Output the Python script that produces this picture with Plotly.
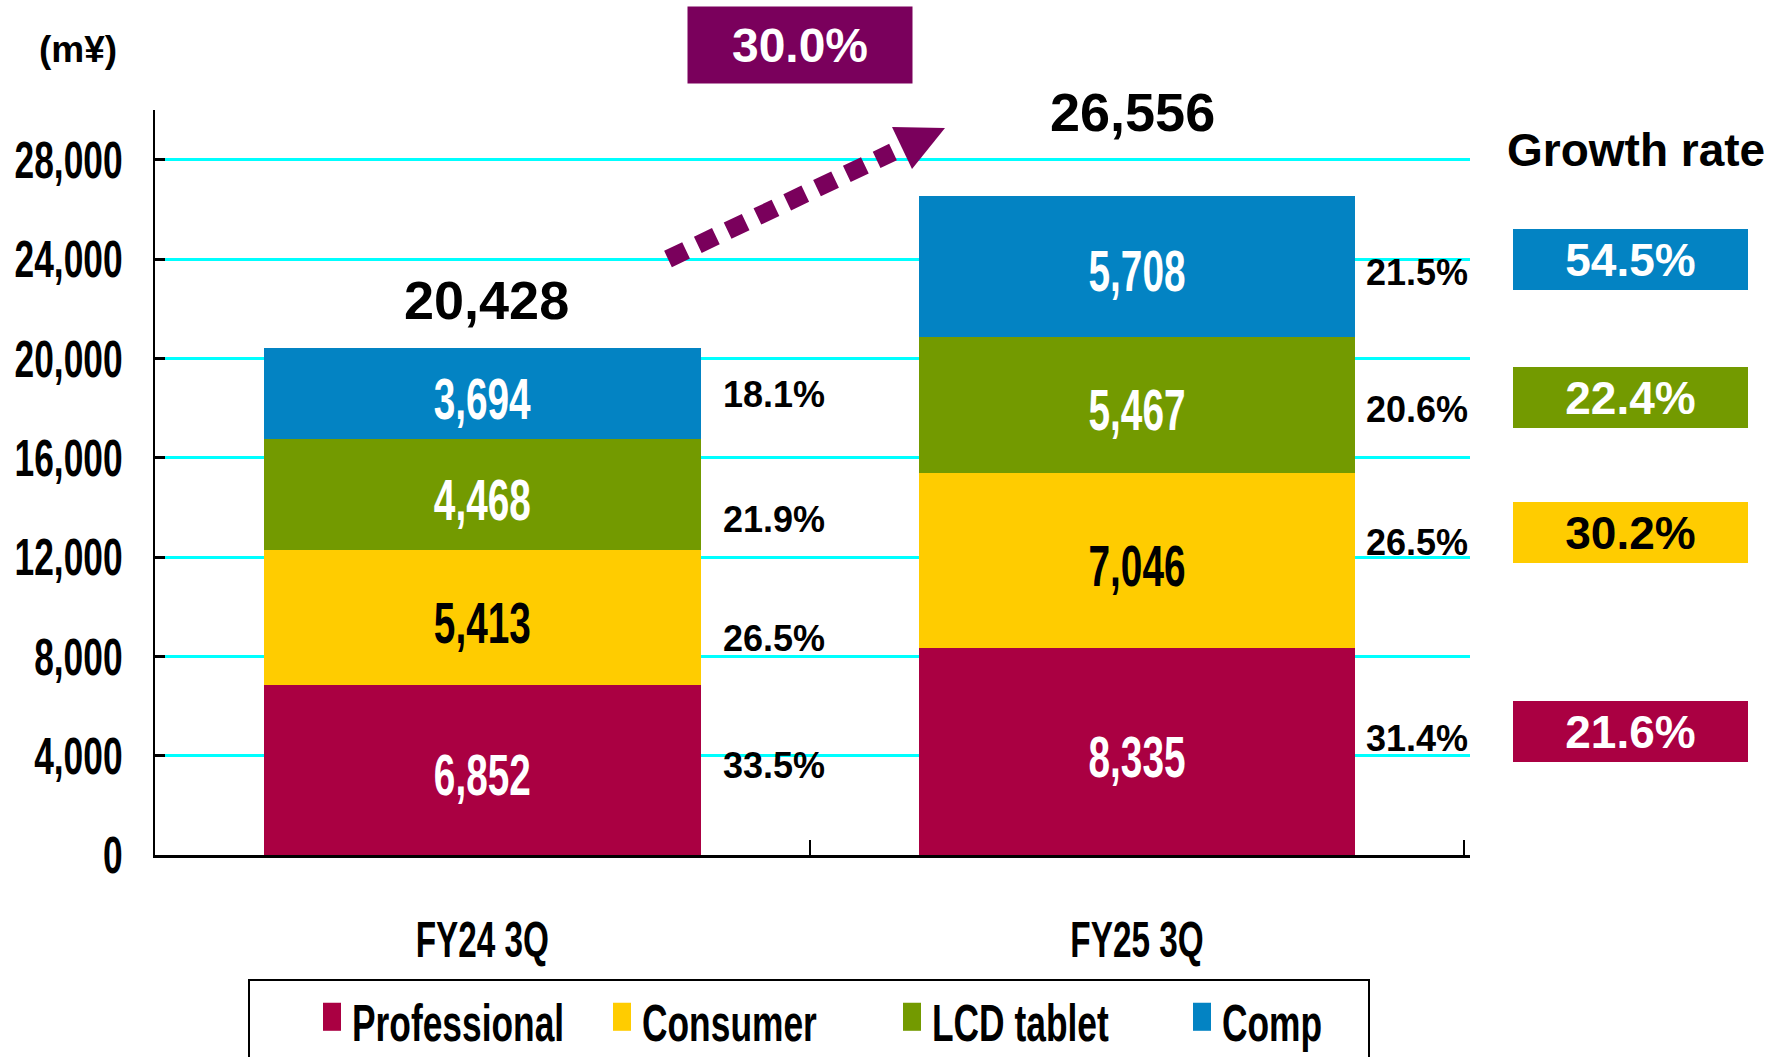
import plotly.graph_objects as go

# ---------------- data ----------------
categories = ["FY24 3Q", "FY25 3Q"]
segments = ["Professional", "Consumer", "LCD tablet", "Comp"]
professional = [6852, 8335]
consumer = [5413, 7046]
lcd_tablet = [4468, 5467]
comp = [3694, 5708]
totals = [20428, 26556]
share_fy24 = ["33.5%", "26.5%", "21.9%", "18.1%"]
share_fy25 = ["31.4%", "26.5%", "20.6%", "21.5%"]
growth_rates = ["21.6%", "30.2%", "22.4%", "54.5%"]
total_growth = "30.0%"
y_tick_values = [0, 4000, 8000, 12000, 16000, 20000, 24000, 28000]
y_tick_labels = ["0", "4,000", "8,000", "12,000", "16,000", "20,000", "24,000", "28,000"]

series_values = [professional, consumer, lcd_tablet, comp]
shares = [share_fy24, share_fy25]

# ---------------- style ----------------
colors = ["#AA0042", "#FFCC00", "#739A00", "#0383C3"]
text_colors = ["white", "black", "white", "white"]
purple = "#7A005C"
# "NarrowX" is a marker name: those texts get horizontally condensed after render
NARROW = "NarrowX, Liberation Sans, Arial, sans-serif"
ARIAL = "Liberation Sans, Arial, Helvetica, sans-serif"
NARROW_SCALE = 0.68

W, H = 1789, 1057
L, R, T, B = 155, 1470, 110, 855


def px(x):
    return (x - L) / (R - L)


def py(y):
    return (B - y) / (B - T)


fig = go.Figure()
for name, vals, col, tc in zip(segments, series_values, colors, text_colors):
    fig.add_trace(go.Bar(
        x=categories, y=vals, name=name,
        marker=dict(color=col, line=dict(width=0)),
        texttemplate="%{y:,}", textposition="inside", insidetextanchor="middle",
        textangle=0,
        textfont=dict(family=NARROW, size=57, color=tc, weight="bold"),
        hoverinfo="skip",
    ))

annotations = []

# totals above bars
total_shift = [(4, 48), (-5, 84)]
for i, tot in enumerate(totals):
    annotations.append(dict(
        x=i, y=tot, xref="x", yref="y", text=f"{tot:,}", showarrow=False,
        xanchor="center", yanchor="middle",
        xshift=total_shift[i][0], yshift=total_shift[i][1],
        font=dict(family=ARIAL, size=54, color="black", weight="bold"),
    ))

# share labels to the right of each bar
share_xshift = [239, 227]
share_yshift = [[4, -21, -25, -1], [13, 18, -4, -6]]
for i in range(len(categories)):
    cum = 0
    for j, vals in enumerate(series_values):
        mid = cum + vals[i] / 2
        cum += vals[i]
        annotations.append(dict(
            x=i, y=mid, xref="x", yref="y", text=shares[i][j], showarrow=False,
            xanchor="left", yanchor="middle",
            xshift=share_xshift[i], yshift=share_yshift[i][j],
            font=dict(family=ARIAL, size=36, color="black", weight="bold"),
        ))

# growth-rate boxes aligned with FY25 segments
growth_yshift = [20, 28, 8, 7]
growth_text_colors = ["white", "black", "white", "white"]
cum = 0
for j, vals in enumerate(series_values):
    mid = cum + vals[1] / 2
    cum += vals[1]
    annotations.append(dict(
        x=px(1630.5), y=mid, xref="paper", yref="y", text=growth_rates[j],
        showarrow=False, xanchor="center", yanchor="middle", yshift=growth_yshift[j],
        width=235, height=61, bgcolor=colors[j], borderpad=0, borderwidth=0,
        font=dict(family=ARIAL, size=46, color=growth_text_colors[j], weight="bold"),
    ))

annotations.append(dict(
    x=px(1636), y=py(150), xref="paper", yref="paper", text="Growth rate",
    showarrow=False, xanchor="center", yanchor="middle",
    font=dict(family=ARIAL, size=46, color="black", weight="bold"),
))
annotations.append(dict(
    x=px(800), y=py(45), xref="paper", yref="paper", text=total_growth,
    showarrow=False, xanchor="center", yanchor="middle",
    width=224, height=76, bgcolor=purple, borderpad=0,
    font=dict(family=ARIAL, size=48, color="white", weight="bold"),
))
annotations.append(dict(
    x=px(78), y=py(50), xref="paper", yref="paper", text="(m¥)",
    showarrow=False, xanchor="center", yanchor="middle",
    font=dict(family=ARIAL, size=37, color="black", weight="bold"),
))

shapes = [
    # dotted growth arrow
    dict(type="line", xref="paper", yref="paper",
         x0=px(668), y0=py(259), x1=px(893), y1=py(152),
         line=dict(color=purple, width=18, dash="20px,13px")),
    dict(type="path", xref="paper", yref="paper",
         path=f"M{px(892)},{py(127)} L{px(945)},{py(128)} L{px(912)},{py(169)} Z",
         fillcolor=purple, line=dict(width=0)),
    # legend frame (bottom cut off by page edge)
    dict(type="rect", xref="paper", yref="paper",
         x0=px(249), x1=px(1369), y0=py(980), y1=py(1090),
         line=dict(color="black", width=2), fillcolor="rgba(0,0,0,0)"),
]

fig.update_layout(
    width=W, height=H,
    margin=dict(l=L, r=W - R, t=T, b=H - B, pad=0, autoexpand=False),
    paper_bgcolor="white", plot_bgcolor="white",
    barmode="stack", bargap=0.333,
    showlegend=True,
    legend=dict(
        orientation="h", traceorder="normal",
        xref="container", yref="container",
        x=312 / W, y=1 - 1021 / H, xanchor="left", yanchor="middle",
        entrywidth=245, entrywidthmode="pixels",
        font=dict(family=NARROW, size=52, color="black", weight="bold"),
        bgcolor="rgba(0,0,0,0)", borderwidth=0,
    ),
    xaxis=dict(
        type="category", showline=True, linecolor="black", linewidth=3,
        ticks="inside", tickson="boundaries", ticklen=15, tickwidth=2, tickcolor="black",
        showgrid=False, ticklabelstandoff=40, automargin=False,
        tickfont=dict(family=NARROW, size=49, color="black", weight="bold"),
    ),
    yaxis=dict(
        range=[0, 30000], tickvals=y_tick_values, ticktext=y_tick_labels,
        showline=True, linecolor="black", linewidth=2,
        ticks="inside", ticklen=10, tickwidth=3, tickcolor="black",
        showgrid=True, gridcolor="#00FFFF", gridwidth=2.5, zeroline=False,
        ticklabelstandoff=20, automargin=False,
        tickfont=dict(family=NARROW, size=52, color="black", weight="bold"),
    ),
    annotations=annotations,
    shapes=shapes,
)

# Page tweaks after render:
#  - no body margin so the figure sits flush in the window
#  - condense texts flagged with the NarrowX family (emulates a narrow bold face)
#  - taller rectangular legend swatches like the original
post_script = """
document.body.style.margin = '0';
document.documentElement.style.margin = '0';
var gd = document.getElementById('{plot_id}');
gd.querySelectorAll('text').forEach(function (el) {
  var ff = el.style.fontFamily || el.getAttribute('font-family') || '';
  if (ff.indexOf('NarrowX') < 0 || el.getAttribute('data-cond')) return;
  var x = parseFloat(el.getAttribute('x')) || 0;
  var dy = el.classList.contains('bartext') ? 5 : 0;
  var t = el.getAttribute('transform') || '';
  el.setAttribute('transform', t + ' translate(' + x + ',' + dy + ') scale(%s,1) translate(' + (-x) + ',0)');
  el.setAttribute('data-cond', '1');
});
gd.querySelectorAll('.legend .legendpoints path').forEach(function (p) {
  p.setAttribute('d', 'M9,10H-9V-18H9Z');
});
""" % NARROW_SCALE

fig.write_html("out.html", post_script=post_script, config={"displayModeBar": False})
